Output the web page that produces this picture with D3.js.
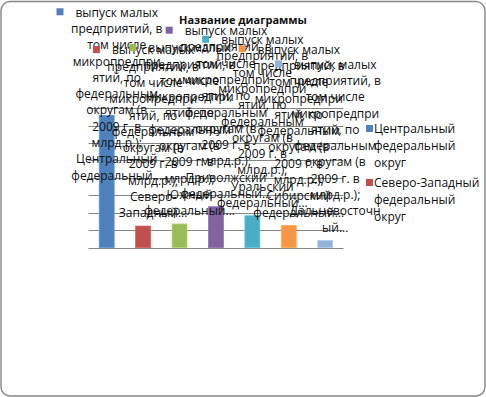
<!DOCTYPE html>
<html>
<head>
<meta charset="utf-8">
<script src="https://cdn.jsdelivr.net/npm/d3@7"></script>
<style>
  body { margin: 0; background: #fff; }
  svg text { font-family: "Open Sans", "Noto Sans", sans-serif; fill: #111; }
</style>
</head>
<body>
<svg id="chart" width="486" height="397"></svg>
<script>
// data
var categories = [
  "Центральный федеральный округ",
  "Северо-Западный федеральный округ",
  "Южный федеральный округ",
  "Приволжский федеральный округ",
  "Уральский федеральный округ",
  "Сибирский федеральный округ",
  "Дальневосточный федеральный округ"
];
var values = [758, 124, 136, 235, 183, 128, 42];
var colors = ["#4F81BD", "#C0504D", "#9BBB59", "#8064A2", "#4BACC6", "#F79646", "#95B3D7"];
var gridTicks = [0, 100, 200, 300, 400, 500, 600, 700, 800];

// wrapped label text (as Excel cut it)
var seriesLines = ["выпуск малых", "предприятий, в", "том числе", "микропредпри",
  "ятий, по", "федеральным", "округам (в", "2009 г. в", "млрд.р.);"];
var categoryLabelLines = [
  ["Центральный", "федеральный..."],
  ["Северо-", "Западный..."],
  ["Южный", "федеральный..."],
  ["Приволжский", "федеральный..."],
  ["Уральский", "федеральный..."],
  ["Сибирский", "федеральный..."],
  ["Дальневосточн", "ый..."]
];
var title = "Название диаграммы";
var legendShown = 2; // the legend box only had room for two entries

var svg = d3.select("#chart");

// outer frame
svg.append("rect")
  .attr("x", 1).attr("y", 1.5)
  .attr("width", 484).attr("height", 394.5)
  .attr("rx", 9).attr("ry", 9)
  .style("fill", "#fff")
  .style("stroke", "#878787")
  .style("stroke-width", 1.4);

// scales
var xScale = d3.scaleBand()
  .domain(categories)
  .range([88.5, 343.4])
  .paddingInner(0.59)
  .paddingOuter(0.295);

var yScale = d3.scaleLinear()
  .domain([0, 800])
  .range([247.7, 108.1]);

// gridlines
svg.append("g").selectAll("line")
  .data(gridTicks)
  .enter()
  .append("line")
  .attr("x1", 88.5).attr("x2", 343.4)
  .attr("y1", function(d) { return Math.round(yScale(d)) + 0.5; })
  .attr("y2", function(d) { return Math.round(yScale(d)) + 0.5; })
  .style("stroke", "#868686")
  .style("stroke-width", 1);

// bars
svg.append("g").selectAll("rect")
  .data(values)
  .enter()
  .append("rect")
  .attr("x", function(d, i) { return xScale(categories[i]); })
  .attr("width", xScale.bandwidth())
  .attr("y", function(d) { return yScale(d); })
  .attr("height", function(d) { return yScale(0) - yScale(d); })
  .style("fill", function(d, i) { return colors[i]; })
  .style("stroke", function(d, i) { return d3.color(colors[i]).brighter(0.4); })
  .style("stroke-width", 0.8);

// data labels with legend keys
var lineH = 16.3;
var labels = svg.append("g").attr("class", "data-labels");

values.forEach(function(v, i) {
  var lines = seriesLines.concat(categoryLabelLines[i]);
  var cx = xScale(categories[i]) + xScale.bandwidth() / 2 + 10;
  var lastCy = yScale(v) - 13;
  var firstCy = Math.max(12.3, lastCy - (lines.length - 1) * lineH);

  var g = labels.append("g");
  var texts = g.selectAll("text")
    .data(lines)
    .enter()
    .append("text")
    .attr("x", cx)
    .attr("y", function(d, k) { return firstCy + k * lineH; })
    .attr("dy", "0.36em")
    .attr("text-anchor", "middle")
    .style("font-size", "12px")
    .text(function(d) { return d; });

  var w = texts.node().getComputedTextLength();
  g.append("rect")
    .attr("x", cx - w / 2 - 19)
    .attr("y", firstCy - 4)
    .attr("width", 7).attr("height", 7)
    .style("fill", colors[i]);
});

// title
svg.append("text")
  .attr("x", 243)
  .attr("y", 20)
  .attr("dy", "0.36em")
  .attr("text-anchor", "middle")
  .style("font-size", "11px")
  .style("font-weight", "bold")
  .text(title);

// legend
var legendItems = svg.append("g").selectAll("g")
  .data(categories.slice(0, legendShown))
  .enter()
  .append("g")
  .attr("transform", function(d, i) { return "translate(366," + (128.5 + i * 54) + ")"; });

legendItems.append("rect")
  .attr("x", 0).attr("y", -3.5)
  .attr("width", 7).attr("height", 7)
  .style("fill", function(d, i) { return colors[i]; });

legendItems.selectAll("text")
  .data(function(d) { return d.split(" "); })
  .enter()
  .append("text")
  .attr("x", 8)
  .attr("y", function(d, k) { return k * 17; })
  .attr("dy", "0.36em")
  .style("font-size", "12px")
  .text(function(d) { return d; });
</script>
</body>
</html>
